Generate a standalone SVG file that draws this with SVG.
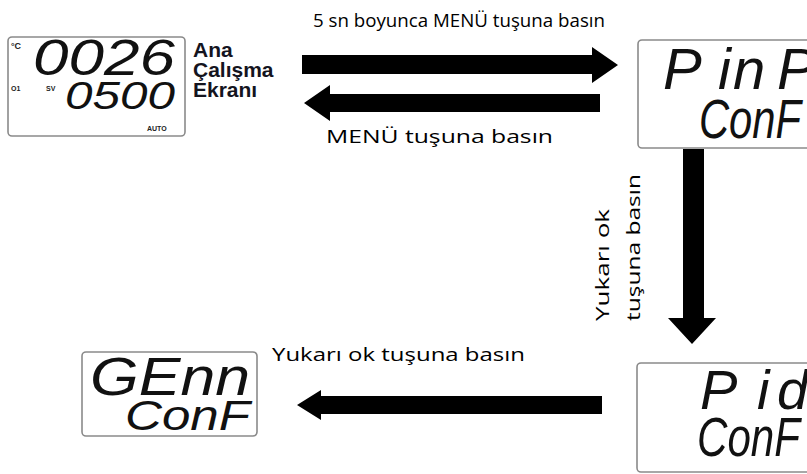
<svg xmlns="http://www.w3.org/2000/svg" width="807" height="474" viewBox="0 0 807 474">
<style>
.box{fill:#fff;stroke:#8a8a8a;stroke-width:1.6}
.lcd{font-family:"Liberation Sans",Arial,sans-serif;font-style:italic;fill:#111}
.lbl{font-family:"Open Sans","Liberation Sans",sans-serif;font-size:19px;fill:#000}
.tiny{font-family:"Liberation Sans",Arial,sans-serif;font-weight:bold;fill:#222}
.title{font-family:"Liberation Sans",Arial,sans-serif;font-weight:bold;font-size:21px;fill:#14141e}
.arr{fill:#000}
</style>
<rect width="807" height="474" fill="#fff"/>
<g id="node-main">
<rect class="box" x="8" y="37" width="177" height="99" rx="4"/>
<text class="tiny" x="11" y="49" font-size="9">°C</text>
<text class="tiny" x="11" y="91" font-size="7">O1</text>
<text class="tiny" x="46" y="91" font-size="7">SV</text>
<text class="tiny" x="147" y="131" font-size="7">AUTO</text>
<text class="lcd" x="33" y="75" font-size="50" textLength="142" lengthAdjust="spacingAndGlyphs">0026</text>
<text class="lcd" x="65" y="109" font-size="39" textLength="110" lengthAdjust="spacingAndGlyphs">0500</text>
</g>
<g id="label-main">
<text class="title" x="193" y="57">Ana</text>
<text class="title" x="193" y="77">Çalışma</text>
<text class="title" x="193" y="97">Ekranı</text>
</g>
<g id="node-pinp">
<rect class="box" x="638" y="40" width="200" height="108" rx="4"/>
<text class="lcd" x="663 718 733 777" y="89" font-size="58">PinP</text>
<text class="lcd" x="699" y="138" font-size="55" textLength="102" lengthAdjust="spacingAndGlyphs">ConF</text>
</g>
<g id="node-pid">
<rect class="box" x="637" y="363" width="200" height="109" rx="4"/>
<text class="lcd" x="700 757 777" y="409" font-size="56">Pid</text>
<text class="lcd" x="697" y="456" font-size="55" textLength="103" lengthAdjust="spacingAndGlyphs">ConF</text>
</g>
<g id="node-genn">
<rect class="box" x="82" y="352" width="175" height="84" rx="4"/>
<text class="lcd" x="90" y="395" font-size="53" textLength="160" lengthAdjust="spacingAndGlyphs">GEnn</text>
<text class="lcd" x="125" y="430" font-size="42" textLength="125" lengthAdjust="spacingAndGlyphs">ConF</text>
</g>
<g id="connectors">
<polygon class="arr" points="302,55 592,55 592,47 618,65 592,83 592,74 302,74"/>
<polygon class="arr" points="600,94 330,94 330,85 304,103 330,121 330,112 600,112"/>
<polygon class="arr" points="683,149 704,149 704,318 716,318 692,344 668,318 683,318"/>
<polygon class="arr" points="602,396 321,396 321,390 297,405 321,420 321,414 602,414"/>
</g>
<g id="connector-labels">
<text class="lbl" x="313" y="27" textLength="292" lengthAdjust="spacingAndGlyphs">5 sn boyunca MENÜ tuşuna basın</text>
<text class="lbl" x="326" y="143" textLength="227" lengthAdjust="spacingAndGlyphs">MENÜ tuşuna basın</text>
<text class="lbl" transform="translate(609,321) rotate(-90)" textLength="112" lengthAdjust="spacingAndGlyphs">Yukarı ok</text>
<text class="lbl" transform="translate(640,321) rotate(-90)" textLength="147" lengthAdjust="spacingAndGlyphs">tuşuna basın</text>
<text class="lbl" x="272" y="361" textLength="253" lengthAdjust="spacingAndGlyphs">Yukarı ok tuşuna basın</text>
</g>
</svg>
